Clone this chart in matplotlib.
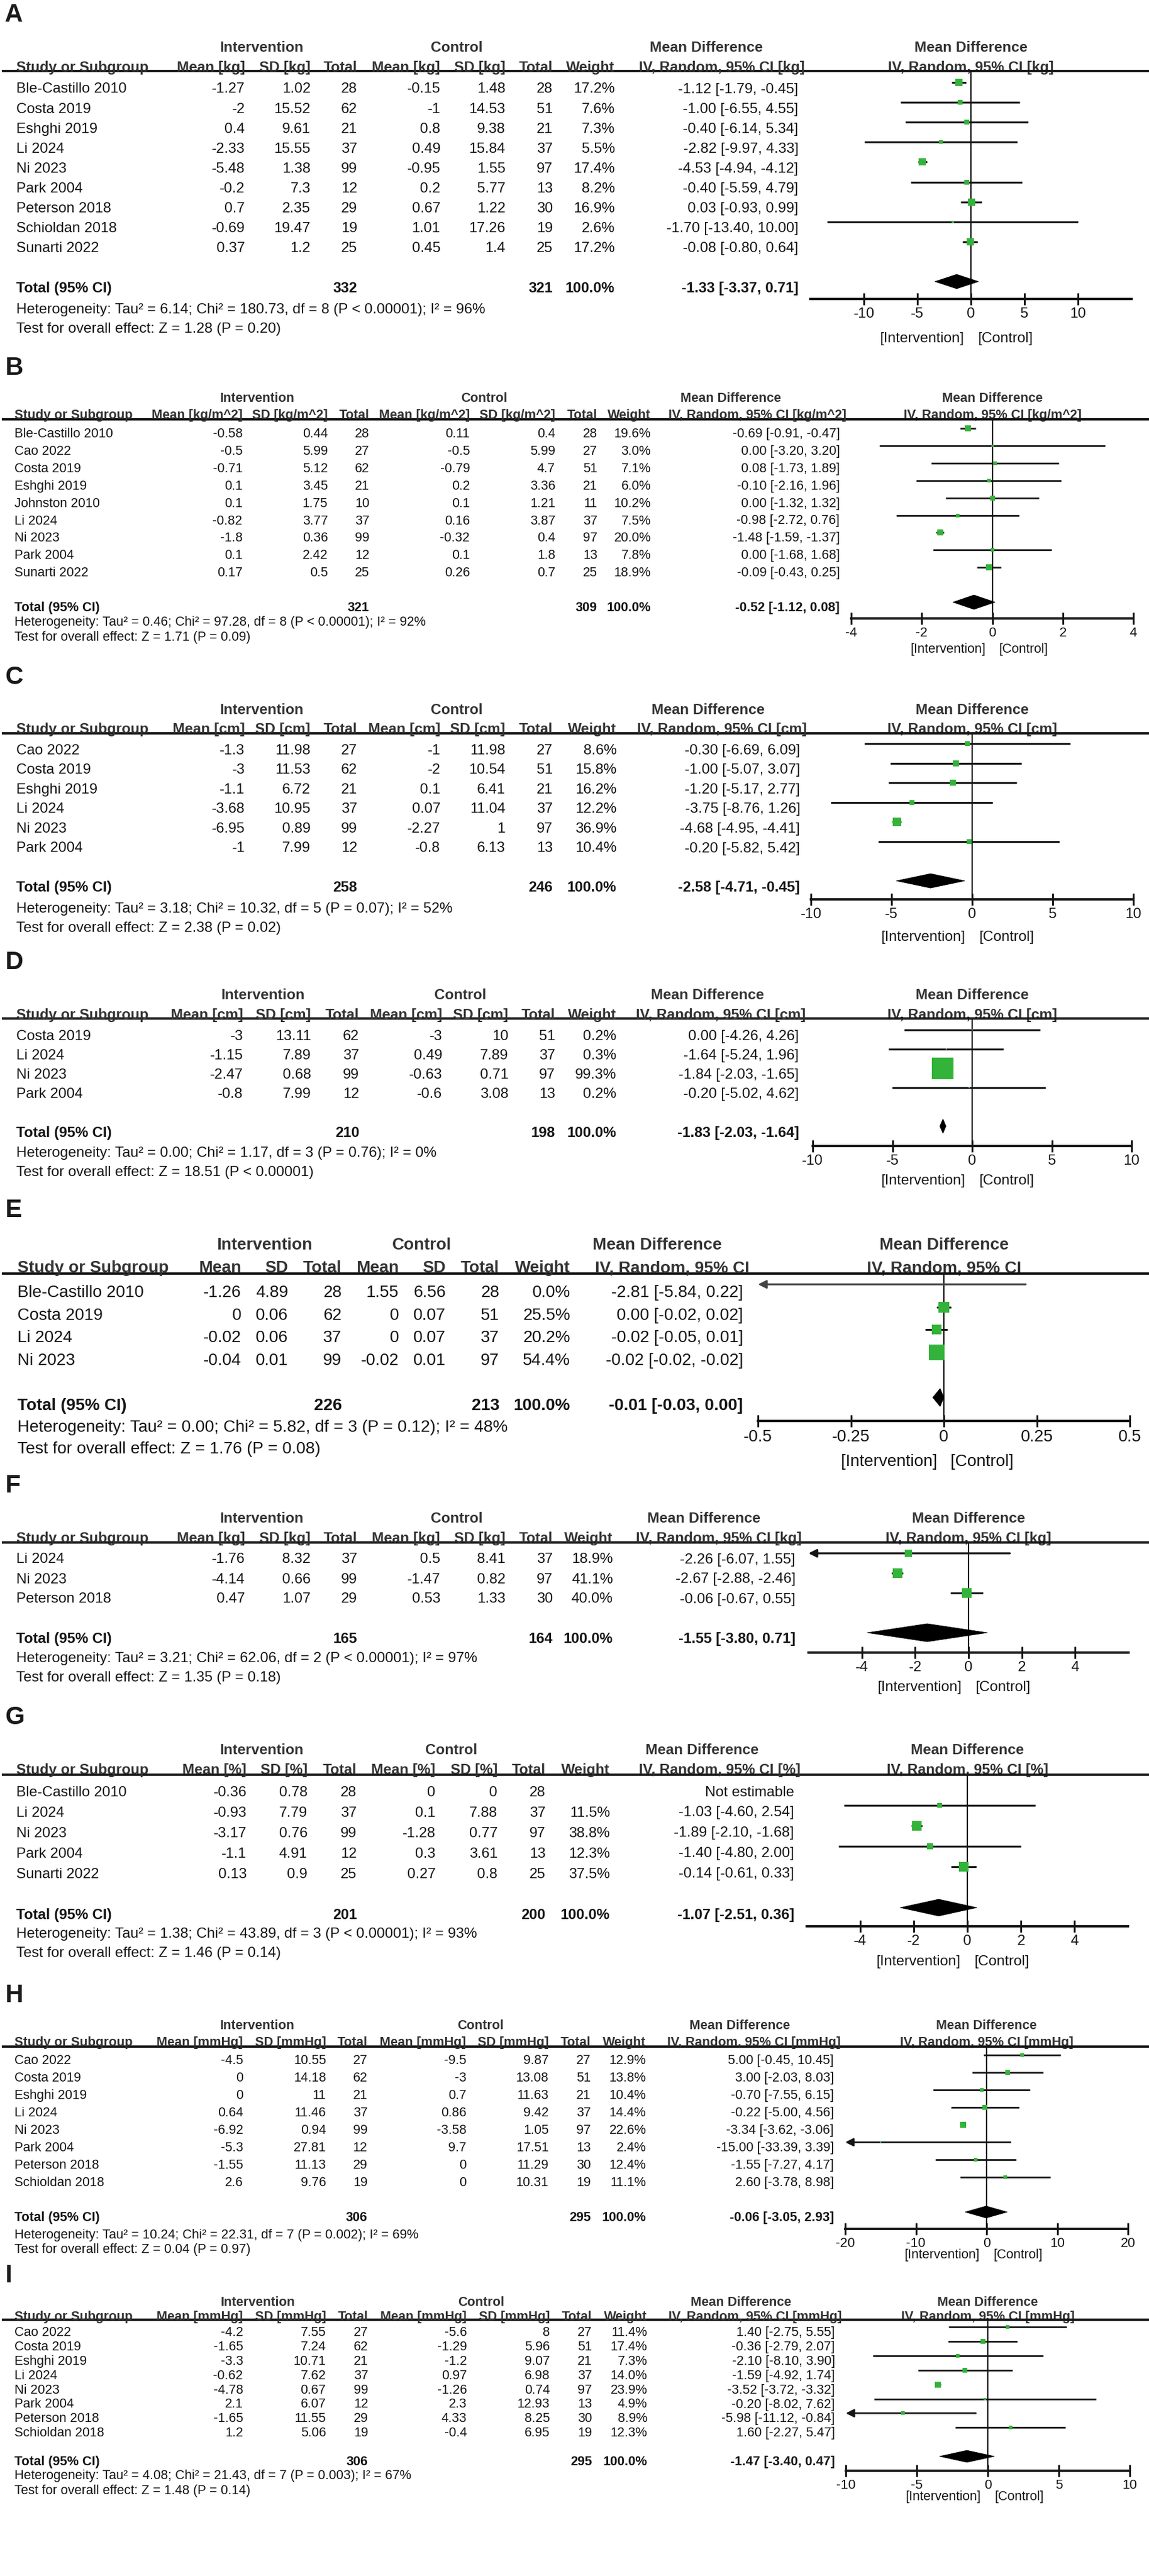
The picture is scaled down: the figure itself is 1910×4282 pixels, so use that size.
import matplotlib
matplotlib.use("Agg")
import matplotlib.pyplot as plt
import matplotlib.transforms as mtrans
from matplotlib.lines import Line2D
from matplotlib.patches import Polygon
import numpy as np

plt.rcParams['font.family'] = ['Liberation Sans', 'DejaVu Sans']

nan = float('nan')

# ---------------- data ----------------
# A  body weight [kg]
a_study = ["Ble-Castillo 2010", "Costa 2019", "Eshghi 2019", "Li 2024", "Ni 2023", "Park 2004",
           "Peterson 2018", "Schioldan 2018", "Sunarti 2022"]
a_int_mean = [-1.27, -2, 0.4, -2.33, -5.48, -0.2, 0.7, -0.69, 0.37]
a_int_sd = [1.02, 15.52, 9.61, 15.55, 1.38, 7.3, 2.35, 19.47, 1.2]
a_int_n = [28, 62, 21, 37, 99, 12, 29, 19, 25]
a_ctl_mean = [-0.15, -1, 0.8, 0.49, -0.95, 0.2, 0.67, 1.01, 0.45]
a_ctl_sd = [1.48, 14.53, 9.38, 15.84, 1.55, 5.77, 1.22, 17.26, 1.4]
a_ctl_n = [28, 51, 21, 37, 97, 13, 30, 19, 25]
a_weight = [17.2, 7.6, 7.3, 5.5, 17.4, 8.2, 16.9, 2.6, 17.2]
a_md = [-1.12, -1.00, -0.40, -2.82, -4.53, -0.40, 0.03, -1.70, -0.08]
a_lo = [-1.79, -6.55, -6.14, -9.97, -4.94, -5.59, -0.93, -13.40, -0.80]
a_hi = [-0.45, 4.55, 5.34, 4.33, -4.12, 4.79, 0.99, 10.00, 0.64]
a_total = [332, 321]
a_pooled = [-1.33, -3.37, 0.71]
a_het = "Heterogeneity: Tau² = 6.14; Chi² = 180.73, df = 8 (P < 0.00001); I² = 96%"
a_test = "Test for overall effect: Z = 1.28 (P = 0.20)"

# B  BMI [kg/m^2]
b_study = ["Ble-Castillo 2010", "Cao 2022", "Costa 2019", "Eshghi 2019", "Johnston 2010", "Li 2024",
           "Ni 2023", "Park 2004", "Sunarti 2022"]
b_int_mean = [-0.58, -0.5, -0.71, 0.1, 0.1, -0.82, -1.8, 0.1, 0.17]
b_int_sd = [0.44, 5.99, 5.12, 3.45, 1.75, 3.77, 0.36, 2.42, 0.5]
b_int_n = [28, 27, 62, 21, 10, 37, 99, 12, 25]
b_ctl_mean = [0.11, -0.5, -0.79, 0.2, 0.1, 0.16, -0.32, 0.1, 0.26]
b_ctl_sd = [0.4, 5.99, 4.7, 3.36, 1.21, 3.87, 0.4, 1.8, 0.7]
b_ctl_n = [28, 27, 51, 21, 11, 37, 97, 13, 25]
b_weight = [19.6, 3.0, 7.1, 6.0, 10.2, 7.5, 20.0, 7.8, 18.9]
b_md = [-0.69, 0.00, 0.08, -0.10, 0.00, -0.98, -1.48, 0.00, -0.09]
b_lo = [-0.91, -3.20, -1.73, -2.16, -1.32, -2.72, -1.59, -1.68, -0.43]
b_hi = [-0.47, 3.20, 1.89, 1.96, 1.32, 0.76, -1.37, 1.68, 0.25]
b_total = [321, 309]
b_pooled = [-0.52, -1.12, 0.08]
b_het = "Heterogeneity: Tau² = 0.46; Chi² = 97.28, df = 8 (P < 0.00001); I² = 92%"
b_test = "Test for overall effect: Z = 1.71 (P = 0.09)"

# C  waist [cm]
c_study = ["Cao 2022", "Costa 2019", "Eshghi 2019", "Li 2024", "Ni 2023", "Park 2004"]
c_int_mean = [-1.3, -3, -1.1, -3.68, -6.95, -1]
c_int_sd = [11.98, 11.53, 6.72, 10.95, 0.89, 7.99]
c_int_n = [27, 62, 21, 37, 99, 12]
c_ctl_mean = [-1, -2, 0.1, 0.07, -2.27, -0.8]
c_ctl_sd = [11.98, 10.54, 6.41, 11.04, 1, 6.13]
c_ctl_n = [27, 51, 21, 37, 97, 13]
c_weight = [8.6, 15.8, 16.2, 12.2, 36.9, 10.4]
c_md = [-0.30, -1.00, -1.20, -3.75, -4.68, -0.20]
c_lo = [-6.69, -5.07, -5.17, -8.76, -4.95, -5.82]
c_hi = [6.09, 3.07, 2.77, 1.26, -4.41, 5.42]
c_total = [258, 246]
c_pooled = [-2.58, -4.71, -0.45]
c_het = "Heterogeneity: Tau² = 3.18; Chi² = 10.32, df = 5 (P = 0.07); I² = 52%"
c_test = "Test for overall effect: Z = 2.38 (P = 0.02)"

# D  hip [cm]
d_study = ["Costa 2019", "Li 2024", "Ni 2023", "Park 2004"]
d_int_mean = [-3, -1.15, -2.47, -0.8]
d_int_sd = [13.11, 7.89, 0.68, 7.99]
d_int_n = [62, 37, 99, 12]
d_ctl_mean = [-3, 0.49, -0.63, -0.6]
d_ctl_sd = [10, 7.89, 0.71, 3.08]
d_ctl_n = [51, 37, 97, 13]
d_weight = [0.2, 0.3, 99.3, 0.2]
d_md = [0.00, -1.64, -1.84, -0.20]
d_lo = [-4.26, -5.24, -2.03, -5.02]
d_hi = [4.26, 1.96, -1.65, 4.62]
d_total = [210, 198]
d_pooled = [-1.83, -2.03, -1.64]
d_het = "Heterogeneity: Tau² = 0.00; Chi² = 1.17, df = 3 (P = 0.76); I² = 0%"
d_test = "Test for overall effect: Z = 18.51 (P < 0.00001)"

# E  waist-hip ratio
e_study = ["Ble-Castillo 2010", "Costa 2019", "Li 2024", "Ni 2023"]
e_int_mean = [-1.26, 0, -0.02, -0.04]
e_int_sd = [4.89, 0.06, 0.06, 0.01]
e_int_n = [28, 62, 37, 99]
e_ctl_mean = [1.55, 0, 0, -0.02]
e_ctl_sd = [6.56, 0.07, 0.07, 0.01]
e_ctl_n = [28, 51, 37, 97]
e_weight = [0.0, 25.5, 20.2, 54.4]
e_md = [-2.81, 0.00, -0.02, -0.02]
e_lo = [-5.84, -0.02, -0.05, -0.02]
e_hi = [0.22, 0.02, 0.01, -0.02]
e_total = [226, 213]
e_pooled = [-0.01, -0.03, 0.00]
e_het = "Heterogeneity: Tau² = 0.00; Chi² = 5.82, df = 3 (P = 0.12); I² = 48%"
e_test = "Test for overall effect: Z = 1.76 (P = 0.08)"

# F  fat mass [kg]
f_study = ["Li 2024", "Ni 2023", "Peterson 2018"]
f_int_mean = [-1.76, -4.14, 0.47]
f_int_sd = [8.32, 0.66, 1.07]
f_int_n = [37, 99, 29]
f_ctl_mean = [0.5, -1.47, 0.53]
f_ctl_sd = [8.41, 0.82, 1.33]
f_ctl_n = [37, 97, 30]
f_weight = [18.9, 41.1, 40.0]
f_md = [-2.26, -2.67, -0.06]
f_lo = [-6.07, -2.88, -0.67]
f_hi = [1.55, -2.46, 0.55]
f_total = [165, 164]
f_pooled = [-1.55, -3.80, 0.71]
f_het = "Heterogeneity: Tau² = 3.21; Chi² = 62.06, df = 2 (P < 0.00001); I² = 97%"
f_test = "Test for overall effect: Z = 1.35 (P = 0.18)"

# G  body fat [%]
g_study = ["Ble-Castillo 2010", "Li 2024", "Ni 2023", "Park 2004", "Sunarti 2022"]
g_int_mean = [-0.36, -0.93, -3.17, -1.1, 0.13]
g_int_sd = [0.78, 7.79, 0.76, 4.91, 0.9]
g_int_n = [28, 37, 99, 12, 25]
g_ctl_mean = [0, 0.1, -1.28, 0.3, 0.27]
g_ctl_sd = [0, 7.88, 0.77, 3.61, 0.8]
g_ctl_n = [28, 37, 97, 13, 25]
g_weight = [nan, 11.5, 38.8, 12.3, 37.5]
g_md = [nan, -1.03, -1.89, -1.40, -0.14]
g_lo = [nan, -4.60, -2.10, -4.80, -0.61]
g_hi = [nan, 2.54, -1.68, 2.00, 0.33]
g_total = [201, 200]
g_pooled = [-1.07, -2.51, 0.36]
g_het = "Heterogeneity: Tau² = 1.38; Chi² = 43.89, df = 3 (P < 0.00001); I² = 93%"
g_test = "Test for overall effect: Z = 1.46 (P = 0.14)"

# H  SBP [mmHg]
h_study = ["Cao 2022", "Costa 2019", "Eshghi 2019", "Li 2024", "Ni 2023", "Park 2004",
           "Peterson 2018", "Schioldan 2018"]
h_int_mean = [-4.5, 0, 0, 0.64, -6.92, -5.3, -1.55, 2.6]
h_int_sd = [10.55, 14.18, 11, 11.46, 0.94, 27.81, 11.13, 9.76]
h_int_n = [27, 62, 21, 37, 99, 12, 29, 19]
h_ctl_mean = [-9.5, -3, 0.7, 0.86, -3.58, 9.7, 0, 0]
h_ctl_sd = [9.87, 13.08, 11.63, 9.42, 1.05, 17.51, 11.29, 10.31]
h_ctl_n = [27, 51, 21, 37, 97, 13, 30, 19]
h_weight = [12.9, 13.8, 10.4, 14.4, 22.6, 2.4, 12.4, 11.1]
h_md = [5.00, 3.00, -0.70, -0.22, -3.34, -15.00, -1.55, 2.60]
h_lo = [-0.45, -2.03, -7.55, -5.00, -3.62, -33.39, -7.27, -3.78]
h_hi = [10.45, 8.03, 6.15, 4.56, -3.06, 3.39, 4.17, 8.98]
h_total = [306, 295]
h_pooled = [-0.06, -3.05, 2.93]
h_het = "Heterogeneity: Tau² = 10.24; Chi² = 22.31, df = 7 (P = 0.002); I² = 69%"
h_test = "Test for overall effect: Z = 0.04 (P = 0.97)"

# I  DBP [mmHg]
i_study = ["Cao 2022", "Costa 2019", "Eshghi 2019", "Li 2024", "Ni 2023", "Park 2004",
           "Peterson 2018", "Schioldan 2018"]
i_int_mean = [-4.2, -1.65, -3.3, -0.62, -4.78, 2.1, -1.65, 1.2]
i_int_sd = [7.55, 7.24, 10.71, 7.62, 0.67, 6.07, 11.55, 5.06]
i_int_n = [27, 62, 21, 37, 99, 12, 29, 19]
i_ctl_mean = [-5.6, -1.29, -1.2, 0.97, -1.26, 2.3, 4.33, -0.4]
i_ctl_sd = [8, 5.96, 9.07, 6.98, 0.74, 12.93, 8.25, 6.95]
i_ctl_n = [27, 51, 21, 37, 97, 13, 30, 19]
i_weight = [11.4, 17.4, 7.3, 14.0, 23.9, 4.9, 8.9, 12.3]
i_md = [1.40, -0.36, -2.10, -1.59, -3.52, -0.20, -5.98, 1.60]
i_lo = [-2.75, -2.79, -8.10, -4.92, -3.72, -8.02, -11.12, -2.27]
i_hi = [5.55, 2.07, 3.90, 1.74, -3.32, 7.62, -0.84, 5.47]
i_total = [306, 295]
i_pooled = [-1.47, -3.40, 0.47]
i_het = "Heterogeneity: Tau² = 4.08; Chi² = 21.43, df = 7 (P = 0.003); I² = 67%"
i_test = "Test for overall effect: Z = 1.48 (P = 0.14)"

units = {'A': 'kg', 'B': 'kg/m^2', 'C': 'cm', 'D': 'cm', 'E': '', 'F': 'kg', 'G': '%',
         'H': 'mmHg', 'I': 'mmHg'}

# ---------------- layout (pixel positions) ----------------
big = dict(fs=17.5, hfs=17.5, tfs=17.5, lw=2.3)
small = dict(fs=15.6, hfs=15.6, tfs=16, lw=2.0)
LAY = {
    'A': dict(big, label=25, h1=77, h2=110, line=118, row0=137, dy=33.1, axis=497, het=513, test=545,
              fav=560, off=9, study=27, cols=[407, 516, 594, 732, 840, 919], weight=1022, ci=1327,
              int_c=435, ctl_c=759, md_c=1174, plot=(1347, 1881), xlim=(-15, 15),
              ticks=[-10, -5, 0, 5, 10], k=2.8, dh=12),
    'B': dict(small, label=612, h1=660, h2=688, line=697, row0=712, dy=28.9, axis=1028, het=1032,
              test=1057, fav=1077, off=7, study=24, cols=[403, 545, 614, 781, 923, 993], weight=1082,
              ci=1396, int_c=427, ctl_c=805, md_c=1215, plot=(1415, 1884), xlim=(-4, 4),
              ticks=[-4, -2, 0, 2, 4], k=2.2, dh=12),
    'C': dict(big, label=1126, h1=1178, h2=1210, line=1219, row0=1236, dy=32.6, axis=1495, het=1508,
              test=1540, fav=1555, off=9, study=27, cols=[407, 516, 594, 732, 840, 919], weight=1025,
              ci=1330, int_c=435, ctl_c=759, md_c=1177, plot=(1348, 1884), xlim=(-10, 10),
              ticks=[-10, -5, 0, 5, 10], k=2.4, dh=12),
    'D': dict(big, label=1600, h1=1652, h2=1685, line=1693, row0=1712, dy=32, axis=1905, het=1915,
              test=1947, fav=1960, off=9, study=27, cols=[404, 517, 597, 735, 845, 923], weight=1025,
              ci=1328, int_c=437, ctl_c=765, md_c=1176, plot=(1351, 1881), xlim=(-10, 10),
              ticks=[-10, -5, 0, 5, 10], k=3.7, dh=12),
    'E': dict(fs=20, hfs=20, tfs=20, lw=2.3, label=2012, h1=2067, h2=2105, line=2117, row0=2135,
              dy=37.6, axis=2362, het=2370, test=2406, fav=2427, off=11, study=29,
              cols=[401, 479, 568, 663, 741, 830], weight=948, ci=1235, int_c=440, ctl_c=701,
              md_c=1092, plot=(1260, 1878), xlim=(-0.5, 0.5), ticks=[-0.5, -0.25, 0, 0.25, 0.5],
              k=3.5, dh=15),
    'F': dict(big, label=2470, h1=2522, h2=2555, line=2564, row0=2582, dy=33, axis=2747, het=2755,
              test=2787, fav=2803, off=8, study=27, cols=[407, 516, 594, 732, 840, 919], weight=1019,
              ci=1322, int_c=435, ctl_c=759, md_c=1170, plot=(1344, 1876), xlim=(-6, 6),
              ticks=[-4, -2, 0, 2, 4], k=2.65, dh=15),
    'G': dict(big, label=2855, h1=2907, h2=2940, line=2950, row0=2967, dy=34, axis=3202, het=3212,
              test=3245, fav=3259, off=10, study=27, cols=[410, 511, 593, 724, 827, 907], weight=1014,
              ci=1320, int_c=435, ctl_c=750, md_c=1167, plot=(1341, 1875), xlim=(-6, 6),
              ticks=[-4, -2, 0, 2, 4], k=2.65, dh=14),
    'H': dict(small, label=3317, h1=3365, h2=3393, line=3402, row0=3416, dy=29, axis=3705, het=3713,
              test=3737, fav=3746, off=7, study=24, cols=[404, 542, 611, 775, 912, 982], weight=1074,
              ci=1386, int_c=427, ctl_c=799, md_c=1230, plot=(1405, 1875), xlim=(-20, 20),
              ticks=[-20, -10, 0, 10, 20], k=1.9, dh=10),
    'I': dict(small, label=3783, h1=3825, h2=3849, line=3856, row0=3868, dy=23.9, axis=4107, het=4113,
              test=4138, fav=4148, off=7, study=24, cols=[404, 542, 612, 776, 914, 984], weight=1076,
              ci=1388, int_c=428, ctl_c=800, md_c=1232, plot=(1406, 1878), xlim=(-10, 10),
              ticks=[-10, -5, 0, 5, 10], k=1.9, dh=10),
}

ink = '#151515'
head = '#333333'
green = '#33b33a'

W, H = 1910, 4282
fig = plt.figure(figsize=(W / 100, H / 100), dpi=100)


def fx(x):
    return x / W


def fy(y):
    return 1 - y / H


def fmt(v):
    return f"{v:g}"


def ci_str(m, l, h):
    return f"{m:.2f} [{l:.2f}, {h:.2f}]"


def draw_panel(letter, study, im, isd, inn, cm, csd, cn, wt, md, lo, hi, tot, pooled, het, test):
    L = LAY[letter]
    unit = units[letter]
    fs, hfs = L['fs'], L['hfs']
    x0, x1 = L['plot']
    top, bot = L['line'], L['axis']
    r0, dy = L['row0'], L['dy']
    ax = fig.add_axes([fx(x0), fy(bot), (x1 - x0) / W, (bot - top) / H])
    ax.set_xlim(L['xlim'])
    ax.set_ylim((bot - r0) / dy, (top - r0) / dy)
    ax.patch.set_visible(False)
    for s in ['left', 'right', 'top']:
        ax.spines[s].set_visible(False)
    ax.spines['bottom'].set_linewidth(2.8)
    ax.spines['bottom'].set_color(ink)
    ax.set_yticks([])
    ax.set_xticks(L['ticks'])
    ax.set_xticklabels([fmt(t) for t in L['ticks']])
    ax.tick_params(axis='x', direction='inout', length=14, width=2.2, labelsize=L['tfs'],
                   pad=3, color=ink, labelcolor=ink)
    ax.axvline(0, color=ink, lw=1.6, zorder=1)

    tr = mtrans.blended_transform_factory(fig.transFigure, ax.transData)
    tr_top = mtrans.blended_transform_factory(ax.transAxes, fig.transFigure)
    toff = L['off'] / dy
    us = f" [{unit}]" if unit else ""

    # panel letter
    fig.text(fx(8), fy(L['label']), letter, fontsize=30, fontweight='bold', color='#1a1a1a',
             ha='left', va='center')

    # headers
    hk = dict(fontsize=hfs, fontweight='bold', color=head, va='center_baseline')
    fig.text(fx(L['int_c']), fy(L['h1']), 'Intervention', ha='center', **hk)
    fig.text(fx(L['ctl_c']), fy(L['h1']), 'Control', ha='center', **hk)
    fig.text(fx(L['md_c']), fy(L['h1']), 'Mean Difference', ha='center', **hk)
    ax.text(0.5, fy(L['h1']), 'Mean Difference', transform=tr_top, ha='center', **hk)
    fig.text(fx(L['study']), fy(L['h2']), 'Study or Subgroup', ha='left', **hk)
    h2 = ['Mean' + us, 'SD' + us, 'Total', 'Mean' + us, 'SD' + us, 'Total']
    for xr, t in zip(L['cols'], h2):
        fig.text(fx(xr), fy(L['h2']), t, ha='right', **hk)
    fig.text(fx(L['weight']), fy(L['h2']), 'Weight', ha='right', **hk)
    fig.text(fx(L['ci'] + 11), fy(L['h2']), 'IV, Random, 95% CI' + us, ha='right', **hk)
    ax.text(0.5, fy(L['h2']), 'IV, Random, 95% CI' + us, transform=tr_top, ha='center', **hk)
    fig.add_artist(Line2D([fx(5), 1.0], [fy(top), fy(top)], transform=fig.transFigure,
                          color=ink, lw=2.8))

    rk = dict(fontsize=fs, color=ink, va='center_baseline', transform=tr)
    n = len(study)
    xmin, xmax = L['xlim']
    for i in range(n):
        y = i + toff
        ax.text(fx(L['study']), y, study[i], ha='left', **rk)
        vals = [fmt(im[i]), fmt(isd[i]), str(inn[i]), fmt(cm[i]), fmt(csd[i]), str(cn[i])]
        for xr, v in zip(L['cols'], vals):
            ax.text(fx(xr), y, v, ha='right', **rk)
        if np.isnan(wt[i]):
            ax.text(fx(L['ci']), y, 'Not estimable', ha='right', **rk)
            continue
        ax.text(fx(L['weight']), y, f"{wt[i]:.1f}%", ha='right', **rk)
        ax.text(fx(L['ci']), y, ci_str(md[i], lo[i], hi[i]), ha='right', **rk)
        l, h = lo[i], hi[i]
        lc = '#444444' if wt[i] == 0 else ink
        if l < xmin:
            ax.annotate('', xy=(xmin, i), xytext=(min(h, xmax), i),
                        arrowprops=dict(arrowstyle='-|>', color=lc, lw=L['lw'],
                                        mutation_scale=20, shrinkA=0, shrinkB=0))
        elif h > xmax:
            ax.annotate('', xy=(xmax, i), xytext=(l, i),
                        arrowprops=dict(arrowstyle='-|>', color=lc, lw=L['lw'],
                                        mutation_scale=20, shrinkA=0, shrinkB=0))
        else:
            ax.plot([l, h], [i, i], color=lc, lw=L['lw'], solid_capstyle='butt', zorder=2)
        side = L['k'] * np.sqrt(wt[i]) * 0.72
        if side > 0 and xmin <= md[i] <= xmax:
            ax.scatter([md[i]], [i], marker='s', s=side ** 2, color=green, linewidths=0, zorder=3)

    # total row
    rt = n + 1
    yt = rt + toff
    bk = dict(rk, fontweight='bold')
    ax.text(fx(L['study']), yt, 'Total (95% CI)', ha='left', **bk)
    ax.text(fx(L['cols'][2]), yt, str(tot[0]), ha='right', **bk)
    ax.text(fx(L['cols'][5]), yt, str(tot[1]), ha='right', **bk)
    ax.text(fx(L['weight']), yt, '100.0%', ha='right', **bk)
    ax.text(fx(L['ci']), yt, ci_str(*pooled), ha='right', **bk)
    hh = L['dh'] / dy
    m, l, h = pooled
    ax.add_patch(Polygon([(l, rt), (m, rt - hh), (h, rt), (m, rt + hh)], closed=True,
                         facecolor='black', edgecolor='black', lw=0.5, zorder=4))

    fig.text(fx(L['study']), fy(L['het']), het, fontsize=fs, color=ink, ha='left', va='center_baseline')
    fig.text(fx(L['study']), fy(L['test']), test, fontsize=fs, color=ink, ha='left', va='center_baseline')

    tr_fav = mtrans.blended_transform_factory(ax.transData, fig.transFigure)
    ax.text(0, fy(L['fav']), '[Intervention]', fontsize=fs, color=ink, ha='right',
            va='center_baseline', transform=mtrans.offset_copy(tr_fav, fig=fig, x=-8, y=0, units='points'))
    ax.text(0, fy(L['fav']), '[Control]', fontsize=fs, color=ink, ha='left',
            va='center_baseline', transform=mtrans.offset_copy(tr_fav, fig=fig, x=8, y=0, units='points'))


draw_panel('A', a_study, a_int_mean, a_int_sd, a_int_n, a_ctl_mean, a_ctl_sd, a_ctl_n,
           a_weight, a_md, a_lo, a_hi, a_total, a_pooled, a_het, a_test)
draw_panel('B', b_study, b_int_mean, b_int_sd, b_int_n, b_ctl_mean, b_ctl_sd, b_ctl_n,
           b_weight, b_md, b_lo, b_hi, b_total, b_pooled, b_het, b_test)
draw_panel('C', c_study, c_int_mean, c_int_sd, c_int_n, c_ctl_mean, c_ctl_sd, c_ctl_n,
           c_weight, c_md, c_lo, c_hi, c_total, c_pooled, c_het, c_test)
draw_panel('D', d_study, d_int_mean, d_int_sd, d_int_n, d_ctl_mean, d_ctl_sd, d_ctl_n,
           d_weight, d_md, d_lo, d_hi, d_total, d_pooled, d_het, d_test)
draw_panel('E', e_study, e_int_mean, e_int_sd, e_int_n, e_ctl_mean, e_ctl_sd, e_ctl_n,
           e_weight, e_md, e_lo, e_hi, e_total, e_pooled, e_het, e_test)
draw_panel('F', f_study, f_int_mean, f_int_sd, f_int_n, f_ctl_mean, f_ctl_sd, f_ctl_n,
           f_weight, f_md, f_lo, f_hi, f_total, f_pooled, f_het, f_test)
draw_panel('G', g_study, g_int_mean, g_int_sd, g_int_n, g_ctl_mean, g_ctl_sd, g_ctl_n,
           g_weight, g_md, g_lo, g_hi, g_total, g_pooled, g_het, g_test)
draw_panel('H', h_study, h_int_mean, h_int_sd, h_int_n, h_ctl_mean, h_ctl_sd, h_ctl_n,
           h_weight, h_md, h_lo, h_hi, h_total, h_pooled, h_het, h_test)
draw_panel('I', i_study, i_int_mean, i_int_sd, i_int_n, i_ctl_mean, i_ctl_sd, i_ctl_n,
           i_weight, i_md, i_lo, i_hi, i_total, i_pooled, i_het, i_test)

fig.savefig('out.png', dpi=100, facecolor='white')
